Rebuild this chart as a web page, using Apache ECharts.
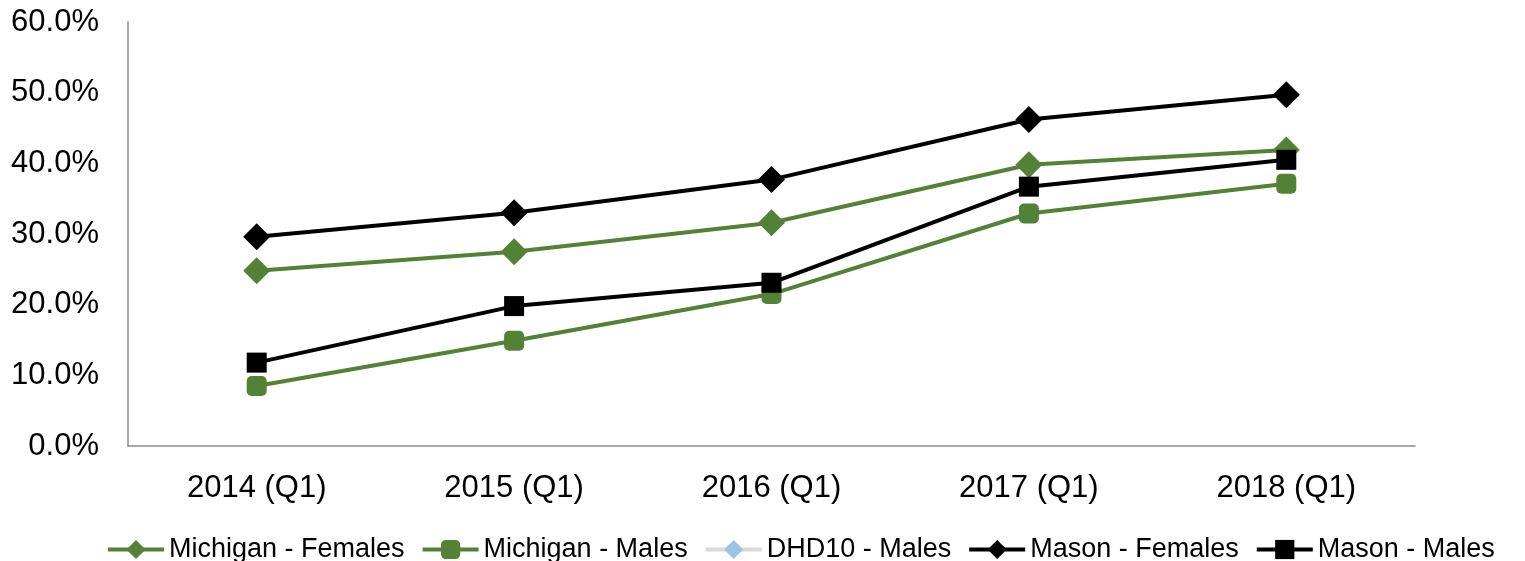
<!DOCTYPE html>
<html>
<head>
<meta charset="utf-8">
<script src="https://cdn.jsdelivr.net/npm/echarts@6/dist/echarts.min.js"></script>
<style>
  html, body { margin: 0; padding: 0; background: #fff; }
  #chart { width: 1525px; height: 561px; }
</style>
</head>
<body>
<div id="chart"></div>
<script>
// categories and values (fractions, axis shows percent)
var years = ['2014 (Q1)', '2015 (Q1)', '2016 (Q1)', '2017 (Q1)', '2018 (Q1)'];
var michiganFemales = [0.248, 0.275, 0.316, 0.398, 0.419];
var michiganMales = [0.085, 0.149, 0.215, 0.329, 0.371];
var dhd10Males = [null, null, null, null, null];
var masonFemales = [0.296, 0.330, 0.377, 0.462, 0.497];
var masonMales = [0.118, 0.198, 0.231, 0.367, 0.405];

var green = '#538135';
var font = 'Liberation Sans, Arial, sans-serif';

var chart = echarts.init(document.getElementById('chart'));

function lineSeries(name, data, color, symbol, size, lineColor) {
  return {
    name: name,
    type: 'line',
    data: data,
    symbol: symbol,
    symbolSize: size,
    showAllSymbol: true,
    connectNulls: false,
    lineStyle: { color: lineColor || color, width: 4 },
    itemStyle: { color: color },
    emphasis: { disabled: true },
    animation: false
  };
}

var option = {
  backgroundColor: '#fff',
  grid: {
    left: 128,
    right: 110,
    top: 22,
    bottom: 115,
    containLabel: false
  },
  legend: {
    top: 531,
    left: 101,
    width: 1424,
    itemWidth: 56,
    itemHeight: 24,
    itemGap: 16,
    lineStyle: { width: 4 },
    textStyle: { fontFamily: font, fontSize: 27, color: '#000' },
    data: ['Michigan - Females', 'Michigan - Males', 'DHD10 - Males', 'Mason - Females', 'Mason - Males']
  },
  xAxis: {
    type: 'category',
    data: years,
    boundaryGap: true,
    axisLine: { lineStyle: { color: '#8c8c8c', width: 1.5 } },
    axisTick: { show: false },
    axisLabel: { fontFamily: font, fontSize: 31, color: '#000', margin: 27 }
  },
  yAxis: {
    type: 'value',
    min: 0,
    max: 0.6,
    interval: 0.1,
    splitLine: { show: false },
    axisLine: { show: true, lineStyle: { color: '#8c8c8c', width: 1.5 } },
    axisTick: { show: false },
    axisLabel: {
      fontFamily: font, fontSize: 31, color: '#000', margin: 29,
      formatter: function (v) { return (v * 100).toFixed(1) + '%'; }
    }
  },
  series: [
    lineSeries('Michigan - Females', michiganFemales, green, 'diamond', 27),
    lineSeries('Michigan - Males', michiganMales, green, 'roundRect', 20),
    lineSeries('DHD10 - Males', dhd10Males, '#9dc3e6', 'diamond', 20, '#d9d9d9'),
    lineSeries('Mason - Females', masonFemales, '#000', 'diamond', 27),
    lineSeries('Mason - Males', masonMales, '#000', 'rect', 20)
  ]
};

chart.setOption(option);
</script>
</body>
</html>
